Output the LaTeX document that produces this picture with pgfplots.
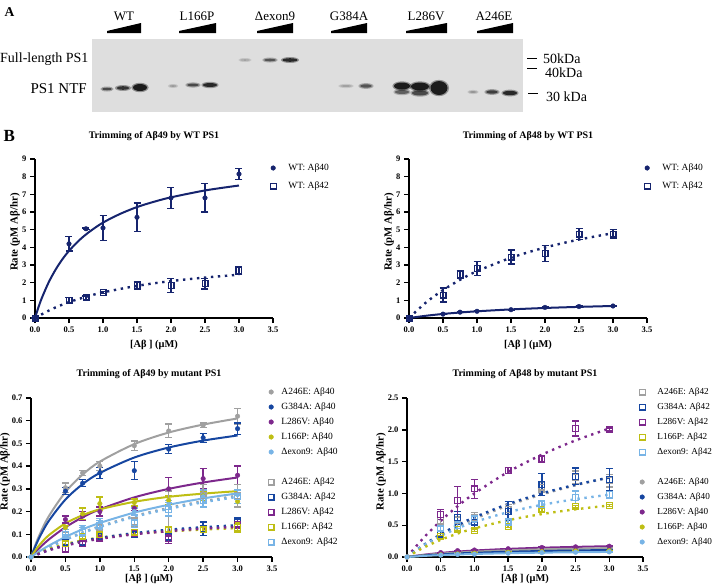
\documentclass[border=0pt]{standalone}
\usepackage{fontspec}
\setmainfont{Liberation Serif}
\usepackage{pgfplots}
\pgfplotsset{compat=1.18}
\definecolor{navy}{RGB}{22,36,110}
\definecolor{cgray}{RGB}{160,160,160}
\definecolor{cblue}{RGB}{22,70,160}
\definecolor{cpurple}{RGB}{125,40,140}
\definecolor{cyellow}{RGB}{190,190,20}
\definecolor{clight}{RGB}{120,180,230}
\definecolor{blotbg}{RGB}{222,222,222}
\newcommand\band[5]{%
  \fill[black!#5,opacity=0.35] (#1pt,-#2pt) ellipse ({#3pt+1.6pt} and {#4pt+1.2pt});
  \fill[black!#5,opacity=0.8] (#1pt,-#2pt) ellipse ({#3pt} and {#4pt});
}
\newcommand\blotwedge[2]{\fill[black] (#1pt,-33pt) -- (#2pt,-33pt) -- (#2pt,-23pt) -- (#1pt,-31pt) -- cycle;}
\pgfplotsset{
  gp/.style={
    scale only axis, height=159pt,
    axis lines=left, axis line style={line width=1.6pt,-},
    xmin=0, xmax=3.5, ymin=0,
    xtick={0,0.5,1,1.5,2,2.5,3,3.5},
    xticklabels={0.0,0.5,1.0,1.5,2.0,2.5,3.0,3.5},
    major tick length=5pt, tick align=outside,
    every tick/.style={line width=1.4pt, black},
    ticklabel style={font=\bfseries\fontsize{8.5}{10}\selectfont},
    /pgf/number format/assume math mode=true,
    xlabel={[Aβ ] (μM)},
    ylabel={Rate (pM Aβ/hr)},
    xlabel style={font=\bfseries\fontsize{10.4}{12}\selectfont},
    ylabel style={font=\bfseries\fontsize{10.8}{12}\selectfont},
    title style={font=\bfseries\fontsize{10}{12}\selectfont, at={(axis description cs:0.5,1.105)}, anchor=center},
    clip=false,
    legend cell align=left,
    legend style={draw=none, fill=none, inner sep=0pt, outer sep=0pt, column sep=0pt,
      at={(rel axis cs:1,1)}, anchor=north west, font=\fontsize{9.5}{11}\selectfont,
      nodes={inner sep=0pt, text height=7pt, text depth=2pt}},
  },
  limg/.style={legend image code/.code={\path (-3pt,0pt) (#1,0pt); \draw[##1] plot coordinates {(0pt,0pt)};}},
  eb/.style={error bars/.cd, y dir=both, y explicit,
    error bar style={line width=1.4pt, color=#1},
    error mark options={rotate=90, mark size=3.5pt, line width=1.4pt, color=#1}},
  pts/.style={only marks, mark=*, mark size=2.3pt, color=#1, eb=#1},
  sq/.style={only marks, mark=square, mark size=2.9pt, mark options={line width=1.2pt, solid}, color=#1, eb=#1},
  fit/.style={no marks, line width=2pt, color=#1, smooth, forget plot},
  dfit/.style={no marks, line width=2.4pt, color=#1, smooth, dash pattern=on 2.4pt off 4.6pt, forget plot},
}
\begin{document}
\begin{tikzpicture}
\useasboundingbox (0pt,0pt) rectangle (713pt,-587pt);
% ---------------- Panel A (western blot) ----------------
\node[anchor=base west, font=\bfseries\fontsize{13.5}{15}\selectfont, inner sep=0pt] at (4.5pt,-16pt) {A};
\fill[blotbg] (92pt,-39pt) rectangle (523pt,-112pt);
\foreach \x/\t in {124/WT,197/L166P,275/Δexon9,349/G384A,426/L286V,494/A246E}
  \node[anchor=base, font=\fontsize{13}{15}\selectfont, inner sep=0pt] at (\x pt,-20.7pt) {\t};
\blotwedge{107}{141}\blotwedge{179}{216}\blotwedge{257}{293}\blotwedge{331}{367}\blotwedge{406}{447}\blotwedge{477}{513}
\node[anchor=base west, font=\fontsize{14}{16}\selectfont, inner sep=0pt] at (0pt,-62pt) {Full-length PS1};
\node[anchor=base east, font=\fontsize{15}{17}\selectfont, inner sep=0pt] at (87pt,-93pt) {PS1 NTF};
\band{245}{60}{5}{0.8}{40}\band{270}{60}{6}{1.3}{75}\band{290}{60}{7.5}{1.8}{95}
\band{107}{89}{5}{1.3}{80}\band{123}{88}{6.5}{1.8}{90}\band{140}{87.5}{7}{3.5}{100}
\band{173}{86}{3.5}{0.8}{45}\band{193}{85}{6}{1.4}{80}\band{210}{85}{7}{2}{95}
\band{346}{86}{6}{0.9}{40}\band{366}{86}{6}{1.7}{75}
\band{402}{92}{7}{2}{70}\band{402}{86}{8}{3.5}{100}
\band{420}{93}{8}{2.5}{80}\band{420}{86.5}{9}{4}{100}
\band{439}{88}{8.5}{7}{100}
\band{473}{92}{4}{0.9}{45}\band{492}{92}{6}{1.7}{85}\band{510}{93}{7}{2.2}{95}
\draw[line width=1.2pt] (527pt,-58.3pt) -- (537pt,-58.3pt);
\draw[line width=1.2pt] (527pt,-68.3pt) -- (537pt,-68.3pt);
\draw[line width=1.2pt] (528pt,-93.3pt) -- (538pt,-93.3pt);
\node[anchor=base west, font=\fontsize{14}{16}\selectfont, inner sep=0pt] at (543pt,-63pt) {50kDa};
\node[anchor=base west, font=\fontsize{14}{16}\selectfont, inner sep=0pt] at (545pt,-77pt) {40kDa};
\node[anchor=base west, font=\fontsize{14}{16}\selectfont, inner sep=0pt] at (546pt,-101pt) {30 kDa};
% ---------------- Panel B ----------------
\node[anchor=base west, font=\bfseries\fontsize{17}{19}\selectfont, inner sep=0pt] at (3.3pt,-141.7pt) {B};

% Top-left
\begin{axis}[gp, width=238pt, at={(35pt,-318pt)}, anchor=south west, ymax=9,
  ytick={0,1,...,9},
  title={Trimming of Aβ49 by WT PS1},
  ylabel style={at={(axis description cs:-0.084,0.54)}, anchor=center},
  xlabel style={at={(axis description cs:0.5,-0.17)}, anchor=center},
  limg=15pt,
  legend style={xshift=-3pt, yshift=-4.5pt, row sep=9pt}]
\addplot[fit=navy] coordinates {(0,0) (0.05,0.60) (0.1,1.13) (0.2,2.01) (0.3,2.72) (0.4,3.31) (0.5,3.80) (0.65,4.40) (0.8,4.88) (1,5.40) (1.25,5.89) (1.5,6.28) (1.75,6.58) (2,6.83) (2.5,7.22) (3,7.50)};
\addplot[dfit=navy] coordinates {(0,0) (0.25,0.51) (0.5,0.90) (0.75,1.20) (1,1.45) (1.5,1.82) (2,2.09) (2.5,2.29) (3,2.45)};
\addplot[pts=navy] coordinates {(0,0) +- (0,0) (0.5,4.2) +- (0,0.4) (0.75,5.05) +- (0,0.05) (1,5.1) +- (0,0.7) (1.5,5.7) +- (0,0.8) (2,6.8) +- (0,0.6) (2.5,6.8) +- (0,0.8) (3,8.15) +- (0,0.3)};
\addlegendentry{WT: Aβ40}
\addplot[sq=navy] coordinates {(0,0) +- (0,0) (0.5,1.0) +- (0,0.15) (0.75,1.15) +- (0,0.1) (1,1.45) +- (0,0.05) (1.5,1.85) +- (0,0.2) (2,1.85) +- (0,0.4) (2.5,1.95) +- (0,0.3) (3,2.7) +- (0,0.2)};
\addlegendentry{WT: Aβ42}
\end{axis}

% Top-right
\begin{axis}[gp, width=238pt, at={(409pt,-318pt)}, anchor=south west, ymax=9,
  ytick={0,1,...,9},
  title={Trimming of Aβ48 by WT PS1},
  ylabel style={at={(axis description cs:-0.084,0.54)}, anchor=center},
  xlabel style={at={(axis description cs:0.5,-0.17)}, anchor=center},
  limg=15pt,
  legend style={xshift=-3pt, yshift=-4.5pt, row sep=9pt}]
\addplot[fit=navy] coordinates {(0,0) (0.25,0.127) (0.5,0.23) (0.75,0.311) (1,0.38) (1.5,0.487) (2,0.568) (2.5,0.63) (3,0.68)};
\addplot[dfit=navy] coordinates {(0,0) (0.25,0.88) (0.5,1.58) (0.75,2.16) (1,2.65) (1.5,3.41) (2,3.99) (2.5,4.44) (3,4.80)};
\addplot[pts=navy] coordinates {(0,0) +- (0,0) (0.5,0.22) +- (0,0.02) (0.75,0.33) +- (0,0.02) (1,0.38) +- (0,0.02) (1.5,0.47) +- (0,0.02) (2,0.60) +- (0,0.02) (2.5,0.65) +- (0,0.02) (3,0.68) +- (0,0.02)};
\addlegendentry{WT: Aβ40}
\addplot[sq=navy] coordinates {(0,0) +- (0,0) (0.5,1.3) +- (0,0.4) (0.75,2.45) +- (0,0.2) (1,2.8) +- (0,0.4) (1.5,3.45) +- (0,0.4) (2,3.65) +- (0,0.45) (2.5,4.75) +- (0,0.3) (3,4.75) +- (0,0.25)};
\addlegendentry{WT: Aβ42}
\end{axis}

% Bottom-left
\begin{axis}[gp, width=241pt, at={(31pt,-557pt)}, anchor=south west, ymax=0.7,
  ytick={0,0.1,0.2,0.3,0.4,0.5,0.6,0.7},
  yticklabels={0.0,0.1,0.2,0.3,0.4,0.5,0.6,0.7},
  title={Trimming of Aβ49 by mutant PS1},
  title style={at={(axis description cs:0.49,1.113)}},
  ylabel style={at={(axis description cs:-0.108,0.536)}, anchor=center},
  xlabel style={at={(axis description cs:0.49,-0.138)}, anchor=center},
  limg=10pt,
  legend style={xshift=-4pt, yshift=10.5pt, row sep=6pt}]
\addplot[fit=cgray] coordinates {(0,0) (0.1,0.081) (0.25,0.175) (0.5,0.286) (0.75,0.363) (1,0.42) (1.5,0.497) (2,0.548) (2.5,0.583) (3,0.61)};
\addplot[fit=cblue] coordinates {(0,0) (0.1,0.0717) (0.25,0.155) (0.5,0.253) (0.75,0.321) (1,0.37) (1.5,0.438) (2,0.482) (2.5,0.5125) (3,0.535)};
\addplot[fit=cpurple] coordinates {(0,0) (0.1,0.0328) (0.25,0.075) (0.5,0.131) (0.75,0.175) (1,0.21) (1.5,0.2625) (2,0.30) (2.5,0.328) (3,0.35)};
\addplot[fit=cyellow] coordinates {(0,0) (0.1,0.0444) (0.25,0.0936) (0.5,0.148) (0.75,0.184) (1,0.21) (1.5,0.243) (2,0.265) (2.5,0.279) (3,0.29)};
\addplot[fit=clight] coordinates {(0,0) (0.1,0.0207) (0.25,0.0486) (0.5,0.0885) (0.75,0.122) (1,0.15) (1.5,0.1955) (2,0.23) (2.5,0.258) (3,0.28)};
\addplot[dfit=cgray] coordinates {(0,0) (0.25,0.0415) (0.5,0.077) (0.75,0.108) (1,0.135) (1.5,0.18) (2,0.216) (2.5,0.245) (3,0.27)};
\addplot[dfit=clight] coordinates {(0,0) (0.25,0.041) (0.5,0.0757) (0.75,0.106) (1,0.1325) (1.5,0.1767) (2,0.212) (2.5,0.241) (3,0.265)};
\addplot[dfit=cyellow] coordinates {(0,0) (0.25,0.034) (0.5,0.0567) (0.75,0.0729) (1,0.085) (1.5,0.102) (2,0.113) (2.5,0.121) (3,0.1275)};
\addplot[dfit=cblue] coordinates {(0,0) (0.25,0.030) (0.5,0.0525) (0.75,0.070) (1,0.084) (1.5,0.105) (2,0.12) (2.5,0.131) (3,0.14)};
\addplot[dfit=cpurple] coordinates {(0,0) (0.25,0.0286) (0.5,0.05) (0.75,0.0667) (1,0.08) (1.5,0.10) (2,0.114) (2.5,0.125) (3,0.133)};
\addplot[pts=cgray] coordinates {(0,0) +- (0,0) (0.5,0.305) +- (0,0.02) (0.75,0.37) +- (0,0.01) (1,0.40) +- (0,0.02) (1.5,0.49) +- (0,0.02) (2,0.555) +- (0,0.03) (2.5,0.58) +- (0,0.01) (3,0.62) +- (0,0.035)};
\addlegendentry{A246E: Aβ40}
\addplot[pts=cblue] coordinates {(0,0) +- (0,0) (0.5,0.29) +- (0,0.015) (0.75,0.325) +- (0,0.015) (1,0.37) +- (0,0.025) (1.5,0.38) +- (0,0.04) (2,0.475) +- (0,0.02) (2.5,0.525) +- (0,0.02) (3,0.565) +- (0,0.025)};
\addlegendentry{G384A: Aβ40}
\addplot[pts=cpurple] coordinates {(0,0) +- (0,0) (0.5,0.165) +- (0,0.015) (0.75,0.18) +- (0,0.02) (1,0.20) +- (0,0.02) (1.5,0.215) +- (0,0.01) (2,0.30) +- (0,0.05) (2.5,0.345) +- (0,0.045) (3,0.36) +- (0,0.04)};
\addlegendentry{L286V: Aβ40}
\addplot[pts=cyellow] coordinates {(0,0) +- (0,0) (0.5,0.13) +- (0,0.01) (0.75,0.19) +- (0,0.025) (1,0.235) +- (0,0.03) (1.5,0.24) +- (0,0.015) (2,0.25) +- (0,0.02) (2.5,0.27) +- (0,0.02) (3,0.245) +- (0,0.025)};
\addlegendentry{L166P: Aβ40}
\addplot[pts=clight] coordinates {(0,0) +- (0,0) (0.5,0.09) +- (0,0.01) (0.75,0.13) +- (0,0.01) (1,0.15) +- (0,0.02) (1.5,0.20) +- (0,0.015) (2,0.23) +- (0,0.02) (2.5,0.265) +- (0,0.03) (3,0.275) +- (0,0.02)};
\addlegendentry{Δexon9: Aβ40}
\addlegendimage{empty legend}\addlegendentry{}
\addplot[sq=cgray] coordinates {(0.5,0.10) +- (0,0.01) (0.75,0.11) +- (0,0.01) (1,0.13) +- (0,0.01) (1.5,0.155) +- (0,0.02) (2,0.21) +- (0,0.08) (2.5,0.27) +- (0,0.05) (3,0.27) +- (0,0.05)};
\addlegendentry{A246E: Aβ42}
\addplot[sq=cblue] coordinates {(0.5,0.065) +- (0,0.01) (0.75,0.065) +- (0,0.01) (1,0.09) +- (0,0.01) (1.5,0.10) +- (0,0.01) (2,0.09) +- (0,0.02) (2.5,0.125) +- (0,0.03) (3,0.155) +- (0,0.02)};
\addlegendentry{G384A: Aβ42}
\addplot[sq=cpurple] coordinates {(0.5,0.035) +- (0,0.01) (0.75,0.06) +- (0,0.01) (1,0.08) +- (0,0.01) (1.5,0.105) +- (0,0.01) (2,0.08) +- (0,0.02) (2.5,0.12) +- (0,0.01) (3,0.145) +- (0,0.02)};
\addlegendentry{L286V: Aβ42}
\addplot[sq=cyellow] coordinates {(0.5,0.06) +- (0,0.01) (0.75,0.09) +- (0,0.01) (1,0.10) +- (0,0.01) (1.5,0.11) +- (0,0.01) (2,0.12) +- (0,0.01) (2.5,0.12) +- (0,0.01) (3,0.13) +- (0,0.02)};
\addlegendentry{L166P: Aβ42}
\addplot[sq=clight] coordinates {(0.5,0.10) +- (0,0.02) (0.75,0.11) +- (0,0.02) (1,0.14) +- (0,0.02) (1.5,0.15) +- (0,0.02) (2,0.21) +- (0,0.03) (2.5,0.25) +- (0,0.03) (3,0.265) +- (0,0.03)};
\addlegendentry{Δexon9: Aβ42}
\end{axis}

% Bottom-right
\begin{axis}[gp, width=236pt, at={(407pt,-557pt)}, anchor=south west, ymax=2.5,
  ytick={0,0.5,1,1.5,2,2.5},
  yticklabels={0.0,0.5,1.0,1.5,2.0,2.5},
  title={Trimming of Aβ48 by mutant PS1},
  title style={at={(axis description cs:0.5,1.113)}},
  ylabel style={at={(axis description cs:-0.11,0.536)}, anchor=center},
  xlabel style={at={(axis description cs:0.5,-0.138)}, anchor=center},
  limg=15pt,
  legend style={xshift=-4pt, yshift=10.5pt, row sep=6pt, font=\fontsize{9.2}{11}\selectfont}]
\addplot[dfit=cpurple] coordinates {(0,0) (0.25,0.306) (0.5,0.569) (0.75,0.798) (1,1.0) (1.5,1.338) (2,1.609) (2.5,1.833) (3,2.02)};
\addplot[dfit=cgray] coordinates {(0,0) (0.25,0.18) (0.5,0.337) (0.75,0.476) (1,0.60) (1.5,0.811) (2,0.984) (2.5,1.128) (3,1.25)};
\addplot[dfit=cblue] coordinates {(0,0) (0.25,0.192) (0.5,0.357) (0.75,0.50) (1,0.625) (1.5,0.833) (2,1.0) (2.5,1.136) (3,1.25)};
\addplot[dfit=clight] coordinates {(0,0) (0.25,0.185) (0.5,0.332) (0.75,0.451) (1,0.55) (1.5,0.705) (2,0.82) (2.5,0.909) (3,0.98)};
\addplot[dfit=cyellow] coordinates {(0,0) (0.25,0.15) (0.5,0.27) (0.75,0.368) (1,0.45) (1.5,0.579) (2,0.675) (2.5,0.75) (3,0.81)};
\addplot[fit=cpurple] coordinates {(0,0) (0.25,0.036) (0.5,0.064) (0.75,0.085) (1,0.102) (1.5,0.1275) (2,0.146) (2.5,0.159) (3,0.17)};
\addplot[fit=cgray] coordinates {(0,0) (0.25,0.03) (0.5,0.0525) (0.75,0.07) (1,0.084) (1.5,0.105) (2,0.12) (2.5,0.131) (3,0.14)};
\addplot[fit=cyellow] coordinates {(0,0) (0.25,0.0214) (0.5,0.0375) (0.75,0.05) (1,0.06) (1.5,0.075) (2,0.0857) (2.5,0.094) (3,0.10)};
\addplot[fit=cblue] coordinates {(0,0) (0.25,0.0236) (0.5,0.041) (0.75,0.055) (1,0.066) (1.5,0.0825) (2,0.094) (2.5,0.103) (3,0.11)};
\addplot[fit=clight] coordinates {(0,0) (0.25,0.0171) (0.5,0.03) (0.75,0.04) (1,0.048) (1.5,0.06) (2,0.0686) (2.5,0.075) (3,0.08)};
\addplot[sq=cgray] coordinates {(0.5,0.57) +- (0,0.05) (0.75,0.58) +- (0,0.05) (1,0.62) +- (0,0.08) (1.5,0.75) +- (0,0.08) (2,1.10) +- (0,0.08) (2.5,1.25) +- (0,0.1) (3,1.20) +- (0,0.1)};
\addlegendentry{A246E: Aβ42}
\addplot[sq=cblue] coordinates {(0.5,0.36) +- (0,0.05) (0.75,0.62) +- (0,0.1) (1,0.55) +- (0,0.1) (1.5,0.72) +- (0,0.15) (2,1.14) +- (0,0.17) (2.5,1.27) +- (0,0.13) (3,1.22) +- (0,0.17)};
\addlegendentry{G384A: Aβ42}
\addplot[sq=cpurple] coordinates {(0.5,0.67) +- (0,0.08) (0.75,0.89) +- (0,0.22) (1,1.07) +- (0,0.15) (1.5,1.36) +- (0,0.05) (2,1.54) +- (0,0.05) (2.5,2.02) +- (0,0.12) (3,2.01) +- (0,0.02)};
\addlegendentry{L286V: Aβ42}
\addplot[sq=cyellow] coordinates {(0.5,0.32) +- (0,0.02) (0.75,0.43) +- (0,0.02) (1,0.42) +- (0,0.02) (1.5,0.48) +- (0,0.02) (2,0.74) +- (0,0.02) (2.5,0.79) +- (0,0.02) (3,0.81) +- (0,0.02)};
\addlegendentry{L166P: Aβ42}
\addplot[sq=clight] coordinates {(0.5,0.45) +- (0,0.03) (0.75,0.50) +- (0,0.05) (1,0.60) +- (0,0.05) (1.5,0.55) +- (0,0.05) (2,0.83) +- (0,0.05) (2.5,0.94) +- (0,0.1) (3,0.98) +- (0,0.05)};
\addlegendentry{Δexon9: Aβ42}
\addlegendimage{empty legend}\addlegendentry{}
\addplot[pts=cgray] coordinates {(0,0) +- (0,0) (0.5,0.05) +- (0,0.005) (0.75,0.07) +- (0,0.005) (1,0.08) +- (0,0.005) (1.5,0.10) +- (0,0.005) (2,0.12) +- (0,0.005) (2.5,0.13) +- (0,0.005) (3,0.14) +- (0,0.005)};
\addlegendentry{A246E: Aβ40}
\addplot[pts=cblue] coordinates {(0,0) +- (0,0) (0.5,0.04) +- (0,0.005) (0.75,0.05) +- (0,0.005) (1,0.06) +- (0,0.005) (1.5,0.08) +- (0,0.005) (2,0.09) +- (0,0.005) (2.5,0.10) +- (0,0.005) (3,0.11) +- (0,0.005)};
\addlegendentry{G384A: Aβ40}
\addplot[pts=cpurple] coordinates {(0,0) +- (0,0) (0.5,0.07) +- (0,0.005) (0.75,0.10) +- (0,0.005) (1,0.11) +- (0,0.005) (1.5,0.13) +- (0,0.005) (2,0.15) +- (0,0.005) (2.5,0.16) +- (0,0.005) (3,0.17) +- (0,0.005)};
\addlegendentry{L286V: Aβ40}
\addplot[pts=cyellow] coordinates {(0,0) +- (0,0) (0.5,0.035) +- (0,0.005) (0.75,0.05) +- (0,0.005) (1,0.06) +- (0,0.005) (1.5,0.075) +- (0,0.005) (2,0.085) +- (0,0.005) (2.5,0.095) +- (0,0.005) (3,0.10) +- (0,0.005)};
\addlegendentry{L166P: Aβ40}
\addplot[pts=clight] coordinates {(0,0) +- (0,0) (0.5,0.03) +- (0,0.005) (0.75,0.04) +- (0,0.005) (1,0.045) +- (0,0.005) (1.5,0.06) +- (0,0.005) (2,0.07) +- (0,0.005) (2.5,0.075) +- (0,0.005) (3,0.08) +- (0,0.005)};
\addlegendentry{Δexon9: Aβ40}
\end{axis}
\end{tikzpicture}
\end{document}
